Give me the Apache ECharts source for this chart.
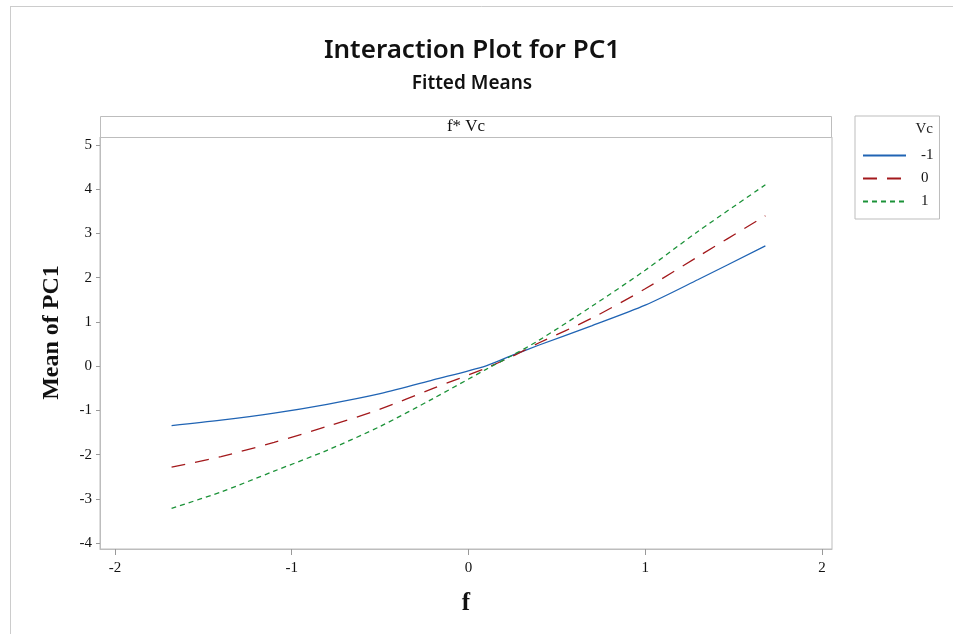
<!DOCTYPE html>
<html>
<head>
<meta charset="utf-8">
<script src="https://cdn.jsdelivr.net/npm/echarts@6/dist/echarts.min.js"></script>
<style>
html,body{margin:0;padding:0;background:#fff;}
#chart{width:954px;height:634px;}
</style>
</head>
<body>
<div id="chart"></div>
<script>
// Data
const fValues = [-1.68, -1.4, -1.1, -0.8, -0.5, -0.2, 0.1, 0.25, 0.4, 0.7, 1.0, 1.3, 1.68];
const vcMinus1 = [-1.34, -1.22, -1.06, -0.86, -0.62, -0.31, 0.01, 0.25, 0.48, 0.92, 1.38, 1.96, 2.72];
const vcZero   = [-2.28, -2.04, -1.72, -1.36, -0.97, -0.50, -0.04, 0.23, 0.53, 1.09, 1.75, 2.48, 3.40];
const vcPlus1  = [-3.21, -2.84, -2.37, -1.90, -1.36, -0.73, -0.07, 0.25, 0.59, 1.36, 2.17, 3.05, 4.10];
const seriesNames = ['-1', '0', '1'];
const xTicks = [-2, -1, 0, 1, 2];
const yTicks = [-4, -3, -2, -1, 0, 1, 2, 3, 4, 5];

const pairs = vals => fValues.map((f, i) => [f, vals[i]]);
const serif = '"Liberation Serif", "DejaVu Serif", serif';
const sans = '"Noto Sans", "Open Sans", sans-serif';

const chart = echarts.init(document.getElementById('chart'), null, {renderer: 'canvas'});
chart.setOption({
  backgroundColor: '#ffffff',
  animation: false,
  title: [
    {text: 'Interaction Plot for PC1', left: 467, top: 33, textAlign: 'center',
     textStyle: {fontFamily: sans, fontSize: 26, fontWeight: 600, color: '#111'}},
    {text: 'Fitted Means', left: 467, top: 69, textAlign: 'center',
     textStyle: {fontFamily: sans, fontSize: 19, fontWeight: 600, color: '#111'}}
  ],
  grid: {left: 100, right: 122, top: 137, bottom: 85, show: true,
         borderColor: '#bdbdbd', borderWidth: 1, backgroundColor: '#fff', containLabel: false},
  legend: {
    left: 855, top: 116, orient: 'vertical',
    data: seriesNames,
    itemWidth: 43, itemHeight: 14, itemGap: 8,
    padding: [32, 6, 10, 7],
    borderColor: '#bdbdbd', borderWidth: 1,
    itemStyle: {opacity: 0, borderWidth: 0},
    textStyle: {fontFamily: serif, fontSize: 15, color: '#111', padding: [0, 0, 0, 10]}
  },
  xAxis: {
    type: 'value', min: -2.085, max: 2.057,
    name: 'f', nameLocation: 'middle', nameGap: 42,
    nameTextStyle: {fontFamily: serif, fontSize: 25, fontWeight: 'bold', color: '#111'},
    axisLine: {show: true, onZero: false, lineStyle: {color: '#bdbdbd'}},
    axisTick: {show: true, length: 6, lineStyle: {color: '#999'}, customValues: xTicks},
    axisLabel: {fontFamily: serif, fontSize: 15, color: '#111', margin: 12, customValues: xTicks},
    splitLine: {show: false}
  },
  yAxis: {
    type: 'value', min: -4.13, max: 5.18,
    name: 'Mean of PC1', nameLocation: 'middle', nameGap: 36, nameRotate: 90,
    nameTextStyle: {fontFamily: serif, fontSize: 24, fontWeight: 'bold', color: '#111', padding: [0, 0, 0, 21]},
    axisLine: {show: true, onZero: false, lineStyle: {color: '#bdbdbd'}},
    axisTick: {show: true, length: 4, lineStyle: {color: '#999'}, customValues: yTicks},
    axisLabel: {fontFamily: serif, fontSize: 15, color: '#111', margin: 8, customValues: yTicks},
    splitLine: {show: false}
  },
  series: [
    {name: seriesNames[0], type: 'line', data: pairs(vcMinus1), symbol: 'none', smooth: 0.3,
     lineStyle: {color: '#2064b4', width: 1.3, type: 'solid'}, itemStyle: {color: '#2064b4'}},
    {name: seriesNames[1], type: 'line', data: pairs(vcZero), symbol: 'none', smooth: 0.3,
     lineStyle: {color: '#a3191c', width: 1.3, type: [14, 10]}, itemStyle: {color: '#a3191c'}},
    {name: seriesNames[2], type: 'line', data: pairs(vcPlus1), symbol: 'none', smooth: 0.3,
     lineStyle: {color: '#1b9238', width: 1.3, type: [5, 4]}, itemStyle: {color: '#1b9238'}}
  ],
  graphic: [
    {type: 'line', shape: {x1: 10.5, y1: 6, x2: 10.5, y2: 634}, style: {stroke: '#cccccc', lineWidth: 1}, silent: true},
    {type: 'line', shape: {x1: 10.5, y1: 6.5, x2: 953, y2: 6.5}, style: {stroke: '#cccccc', lineWidth: 1}, silent: true},
    {type: 'rect', shape: {x: 100.5, y: 116.5, width: 731, height: 21}, style: {fill: '#fff', stroke: '#bdbdbd', lineWidth: 1}, silent: true},
    {type: 'text', x: 466, y: 127, style: {text: 'f* Vc', fontFamily: serif, fontSize: 17, fill: '#111', textAlign: 'center', textVerticalAlign: 'middle'}, silent: true},
    {type: 'text', x: 933, y: 129, style: {text: 'Vc', fontFamily: serif, fontSize: 15, fill: '#222', textAlign: 'right', textVerticalAlign: 'middle'}, silent: true}
  ]
});
</script>
</body>
</html>
